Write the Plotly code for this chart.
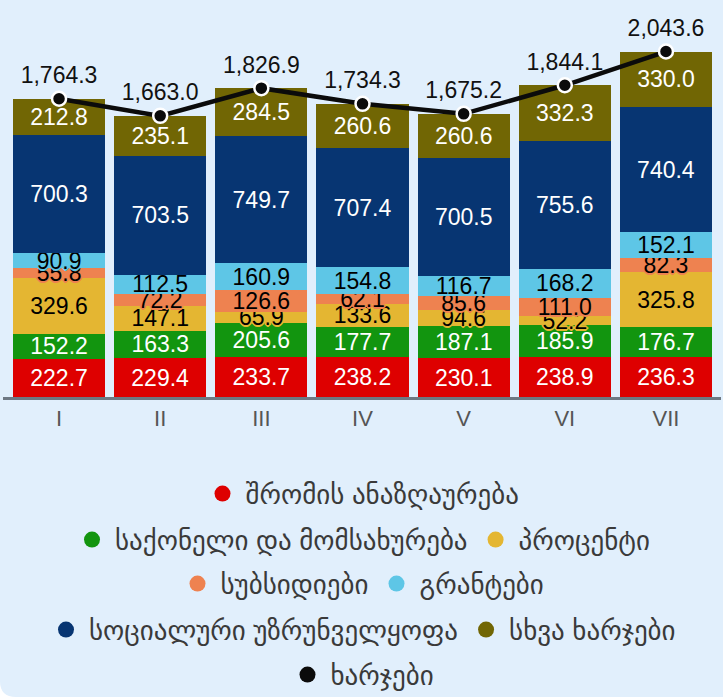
import plotly.graph_objects as go

categories = ["I", "II", "III", "IV", "V", "VI", "VII"]
labor = [222.7, 229.4, 233.7, 238.2, 230.1, 238.9, 236.3]
goods = [152.2, 163.3, 205.6, 177.7, 187.1, 185.9, 176.7]
interest = [329.6, 147.1, 65.9, 133.6, 94.6, 52.2, 325.8]
subsidies = [55.8, 72.2, 126.6, 62.1, 85.6, 111.0, 82.3]
grants = [90.9, 112.5, 160.9, 154.8, 116.7, 168.2, 152.1]
social = [700.3, 703.5, 749.7, 707.4, 700.5, 755.6, 740.4]
other = [212.8, 235.1, 284.5, 260.6, 260.6, 332.3, 330.0]
expenses = [1764.3, 1663.0, 1826.9, 1734.3, 1675.2, 1844.1, 2043.6]

series = [
    ("შრომის ანაზღაურება", labor, "#de0000", "white", "legend"),
    ("საქონელი და მომსახურება", goods, "#12950f", "white", "legend2"),
    ("პროცენტი", interest, "#e4b632", "black", "legend2"),
    ("სუბსიდიები", subsidies, "#ee8250", "black", "legend3"),
    ("გრანტები", grants, "#5ec6e6", "black", "legend3"),
    ("სოციალური უზრუნველყოფა", social, "#073572", "white", "legend4"),
    ("სხვა ხარჯები", other, "#716604", "white", "legend4"),
]
line_name = "ხარჯები"
line_color = "#0b0b0b"

FONT = "Liberation Sans, Arial, DejaVu Sans, sans-serif"


def outline(c):
    return (f"-1px -1px 0 {c}, 1px -1px 0 {c}, -1px 1px 0 {c}, 1px 1px 0 {c}, "
            f"0 -2px 0 {c}, 0 2px 0 {c}, -2px 0 0 {c}, 2px 0 0 {c}")


fig = go.Figure()
for name, vals, color, tcolor, _ in series:
    fig.add_trace(go.Bar(
        x=categories, y=vals, name=name, marker=dict(color=color, line=dict(width=0)),
        texttemplate="%{y:.1f}", textposition="inside", insidetextanchor="middle",
        constraintext="none", textangle=0,
        textfont=dict(family=FONT, size=23, color=tcolor, shadow=outline(color)),
        showlegend=False, cliponaxis=False,
    ))

fig.add_trace(go.Scatter(
    x=categories, y=expenses, name=line_name, mode="lines+markers+text",
    texttemplate="%{y:,.1f}", textposition="top center",
    line=dict(color=line_color, width=4.5),
    marker=dict(size=14, color=line_color, line=dict(color="white", width=2.5)),
    textfont=dict(family=FONT, size=23, color="#111111"),
    showlegend=False, cliponaxis=False,
))

# legend entries (circles)
for name, vals, color, tcolor, lg in series:
    fig.add_trace(go.Scatter(x=[None], y=[None], mode="markers", name=name,
                             marker=dict(size=20, color=color), legend=lg))
fig.add_trace(go.Scatter(x=[None], y=[None], mode="markers", name=line_name,
                         marker=dict(size=20, color=line_color), legend="legend5"))

W, H = 723, 697
L, R, T, B = 3, 2, 42, 300
pw, ph = W - L - R, H - T - B


def px(x):
    return (x - L) / pw


def py(y):
    return (H - B - y) / ph


rx, ry = 16 / pw, 16 / ph
x0, x1 = px(0), px(W)
yt, yb = py(0), py(H)
path = (f"M {x0},{yt} L {x1},{yt} L {x1},{yb} L {x0 + rx},{yb} "
        f"Q {x0},{yb} {x0},{yb + ry} Z")

legend_common = dict(orientation="h", x=0.5, xanchor="center", yanchor="middle",
                     bgcolor="rgba(0,0,0,0)", itemwidth=36,
                     font=dict(family=FONT, size=27, color="#3a3a3a"))
rows = [494, 540, 584, 630, 675]

fig.update_layout(
    width=W, height=H,
    margin=dict(l=L, r=R, t=T, b=B, autoexpand=False),
    paper_bgcolor="white",
    plot_bgcolor="rgba(0,0,0,0)",
    barmode="stack",
    bargap=0.09,
    font=dict(family=FONT),
    shapes=[dict(type="path", path=path, xref="paper", yref="paper",
                 fillcolor="#e1effc", line=dict(width=0), layer="below")],
    xaxis=dict(range=[-0.554, 6.544], showline=True, linecolor="#6e7883", linewidth=2.5,
               showgrid=False, ticks="", tickfont=dict(family=FONT, size=22, color="#555555"),
               fixedrange=True),
    yaxis=dict(range=[0, 2100], visible=False, showgrid=False, fixedrange=True),
    legend=dict(y=py(rows[0]), **legend_common),
    legend2=dict(y=py(rows[1]), **legend_common),
    legend3=dict(y=py(rows[2]), **legend_common),
    legend4=dict(y=py(rows[3]), **legend_common),
    legend5=dict(y=py(rows[4]), **legend_common),
)

fig.write_html("out.html", config={"displayModeBar": False},
               post_script="document.body.style.margin='0';document.body.style.overflow='hidden';")
